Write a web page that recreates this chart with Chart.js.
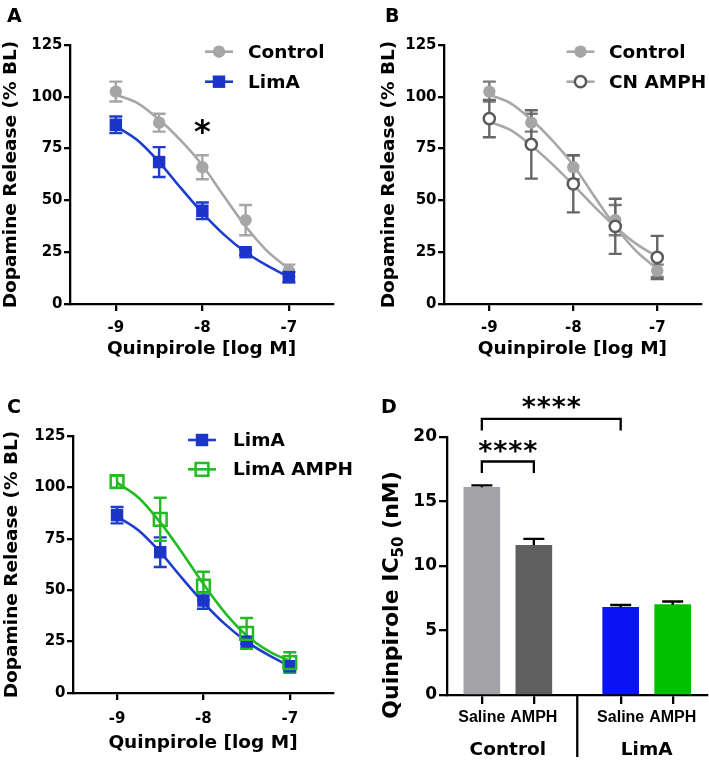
<!DOCTYPE html>
<html><head><meta charset="utf-8">
<script src="https://cdn.jsdelivr.net/npm/chart.js@4.4.1/dist/chart.umd.min.js"></script>
<style>
html,body{margin:0;padding:0;background:#fff;}
#fig{position:relative;width:709px;height:764px;overflow:hidden;background:#fff;}
#fig canvas{position:absolute;}
</style></head><body>
<div id="fig">
<canvas id="cA" width="354" height="380" style="left:0px;top:0px"></canvas>
<canvas id="cB" width="355" height="380" style="left:354px;top:0px"></canvas>
<canvas id="cC" width="354" height="384" style="left:0px;top:380px"></canvas>
<canvas id="cD" width="355" height="384" style="left:354px;top:380px"></canvas>
</div>
<script>
// ---------------- DATA ----------------
const doses = [-9, -8.5, -8, -7.5, -7];
const fitDoses = [-9, -8.75, -8.5, -8.25, -8, -7.75, -7.5, -7.25, -7];
const doseTicks = [-9, -8, -7];
const releaseTicks = [0, 25, 50, 75, 100, 125];

const controlMean = [102.5, 87.5, 66, 40.5, 16];
const controlSem  = [4.8, 4.3, 5.8, 7.3, 3];
const controlFit  = [101, 97, 89, 79, 67, 52, 37.5, 25.5, 17];

const limaMean = [86.5, 68.5, 45, 25, 13];
const limaSem  = [4, 7.2, 4, 1.2, 2.5];
const limaFit  = [85.8, 79, 68.5, 56, 44, 33.5, 25, 18.5, 13];

const cnAmphMean = [89.5, 77, 58, 37.5, 22.5];
const cnAmphSem  = [9, 16.5, 13.8, 13.3, 10.4];
const cnAmphFit  = [88, 84, 76.5, 67.5, 57.5, 47, 37.3, 29, 22.8];

const limaAmphMean = [102.8, 84.5, 52, 29, 14.8];
const limaAmphSem  = [3, 10.5, 7, 7.5, 5];
const limaAmphFit  = [102.3, 95, 83, 68.5, 53, 39, 28, 20.5, 15.5];

const treatments = ['Saline', 'AMPH', 'Saline', 'AMPH'];
const groupNames = ['Control', 'LimA'];
const ic50Mean = [16.1, 11.6, 6.8, 7.0];
const ic50Sem  = [0.15, 0.5, 0.18, 0.25];
const ic50Ticks = [0, 5, 10, 15, 20];
const sigPairs = [[0, 1], [0, 2]];
const sigLabels = ['****', '****'];

// ---------------- STYLE ----------------
const FONT = 'DejaVu Sans';
const fontStr = (size, fam) => `bold ${size}px "${fam || FONT}"`;
const STY = {
  control:  {line:'#a6a6a6', shape:'circle', r:6.2, fill:'#a6a6a6', stroke:'#a6a6a6', bw:0, err:'#a6a6a6'},
  controlB: {line:'#a8a8a8', shape:'circle', r:6.2, fill:'#a6a6a6', stroke:'#a6a6a6', bw:0, err:'#7a7a7a'},
  lima:     {line:'#1d3dcc', shape:'rect', r:8.8, fill:'#1a35c8', stroke:'#1a35c8', bw:0, err:'#1d3dcc'},
  cnAmph:   {line:'#a8a8a8', shape:'circle', r:5.6, fill:'#ffffff', stroke:'#5a5a5a', bw:2.5, err:'#666666'},
  limaAmph: {line:'#22bb22', shape:'rect', r:9, fill:'rgba(0,0,0,0)', stroke:'#22bb22', bw:2.5, err:'#22bb22'}
};
const barColors = ['#a3a3a7', '#5f5f5f', '#0a14f2', '#00c000'];

// ---------------- PLUGINS ----------------
function drawErr(chart, after) {
  const ctx = chart.ctx;
  chart.data.datasets.forEach((ds, i) => {
    if (!ds.errors || (!!ds.errorsOnTop) !== after) return;
    const meta = chart.getDatasetMeta(i);
    const ys = chart.scales[meta.yAxisID];
    ctx.save();
    ctx.strokeStyle = ds.errorColor; ctx.lineWidth = ds.errorWidth || 2.4; ctx.lineCap = 'butt';
    meta.data.forEach((el, j) => {
      const v = ds.data[j].y, e = ds.errors[j];
      const x = el.x;
      const yHi = ys.getPixelForValue(v + e);
      const yLo = ds.errorUpOnly ? ys.getPixelForValue(v) : ys.getPixelForValue(v - e);
      const h = ds.capHalf;
      ctx.beginPath();
      ctx.moveTo(x, yLo); ctx.lineTo(x, yHi);
      ctx.moveTo(x - h, yHi); ctx.lineTo(x + h, yHi);
      if (!ds.errorUpOnly) { ctx.moveTo(x - h, yLo); ctx.lineTo(x + h, yLo); }
      ctx.stroke();
    });
    ctx.restore();
  });
}
Chart.register({
  id: 'errorBars',
  beforeDatasetsDraw(chart) { drawErr(chart, false); },
  afterDatasetsDraw(chart) { drawErr(chart, true); }
});

function marker(ctx, sty, x, y) {
  ctx.save();
  ctx.fillStyle = sty.fill; ctx.strokeStyle = sty.stroke; ctx.lineWidth = sty.bw;
  ctx.beginPath();
  if (sty.shape === 'circle') ctx.arc(x, y, sty.r, 0, Math.PI * 2);
  else { const s = sty.r * Math.SQRT1_2; ctx.rect(x - s, y - s, 2 * s, 2 * s); }
  ctx.fill();
  if (sty.bw > 0) ctx.stroke();
  ctx.restore();
}
function centeredText(ctx, text, cx, cy, size) {
  ctx.save();
  ctx.font = fontStr(size); ctx.fillStyle = '#000';
  const m = ctx.measureText(text);
  ctx.textAlign = 'center'; ctx.textBaseline = 'alphabetic';
  ctx.fillText(text, cx, cy + (m.actualBoundingBoxAscent - m.actualBoundingBoxDescent) / 2);
  ctx.restore();
}
function letter(ctx, t, x, base) {
  ctx.save(); ctx.font = fontStr(19); ctx.fillStyle = '#000';
  ctx.textAlign = 'left'; ctx.textBaseline = 'alphabetic'; ctx.fillText(t, x, base); ctx.restore();
}
function legend(ctx, lg, items) {
  items.forEach((it, i) => {
    const y = lg.y + i * lg.gap;
    ctx.save();
    ctx.strokeStyle = it.sty.line; ctx.lineWidth = 2.6;
    ctx.beginPath(); ctx.moveTo(lg.x - 14, y); ctx.lineTo(lg.x + 14, y); ctx.stroke();
    ctx.restore();
    marker(ctx, it.sty, lg.x, y);
    ctx.save();
    ctx.font = fontStr(18.5); ctx.fillStyle = '#000'; ctx.textAlign = 'left'; ctx.textBaseline = 'middle';
    ctx.fillText(it.name, lg.tx, y + 1);
    ctx.restore();
  });
}

// ---------------- DOSE-RESPONSE PANELS ----------------
function doseChart(id, p) {
  const datasets = [];
  p.series.forEach((s, k) => {
    datasets.push({label: s.name + ' fit', data: fitDoses.map((x, i) => ({x, y: s.fit[i]})),
      showLine: true, pointRadius: 0, borderColor: s.sty.line, borderWidth: 2.6,
      cubicInterpolationMode: 'monotone', order: 20 - k});
    datasets.push({label: s.name, data: doses.map((x, i) => ({x, y: s.mean[i]})),
      showLine: false, pointStyle: s.sty.shape, pointRadius: s.sty.r,
      backgroundColor: s.sty.fill, borderColor: s.sty.stroke, borderWidth: s.sty.bw,
      errors: s.sem, errorColor: s.sty.err, capHalf: 6.5, order: 10 - k});
  });
  const tickFont = {family: FONT, size: 15, weight: 'bold'};
  const titleFont = {family: FONT, size: 18.5, weight: 'bold'};
  return new Chart(document.getElementById(id), {
    type: 'scatter',
    data: {datasets},
    options: {
      responsive: false, animation: false, devicePixelRatio: 1, events: [],
      layout: {padding: {left: 0, top: p.top, right: p.right, bottom: 0}},
      plugins: {legend: {display: false}, tooltip: {enabled: false}},
      scales: {
        x: {type: 'linear', min: p.xMin, max: p.xMax, offset: false,
          afterBuildTicks: s => { s.ticks = doseTicks.map(v => ({value: v})); },
          afterFit: s => { s.height = p.xH; s.paddingLeft = 0; s.paddingRight = 0; },
          ticks: {callback: v => String(v), color: '#000', font: tickFont, padding: p.xTickPad, maxRotation: 0, autoSkip: false},
          grid: {drawOnChartArea: false, drawTicks: true, tickLength: 7, tickWidth: 2.3, tickColor: '#000', color: '#000', lineWidth: 2.3, offset: false},
          border: {display: true, color: '#000', width: 2.3},
          title: {display: true, text: 'Quinpirole [log M]', color: '#000', font: titleFont, padding: {top: 0, bottom: p.xTitlePad}}
        },
        y: {min: 0, max: 125,
          afterBuildTicks: s => { s.ticks = releaseTicks.map(v => ({value: v})); },
          afterFit: s => { s.width = p.yW; s.paddingTop = 0; s.paddingBottom = 0; },
          ticks: {color: '#000', font: tickFont, padding: 1.5, autoSkip: false},
          grid: {drawOnChartArea: false, drawTicks: true, tickLength: 6, tickWidth: 2.3, tickColor: '#000', color: '#000', lineWidth: 2.3},
          border: {display: true, color: '#000', width: 2.3},
          title: {display: true, text: 'Dopamine Release (% BL)', color: '#000', font: titleFont, padding: {top: p.yTitlePad, bottom: 0}}
        }
      }
    },
    plugins: [{
      id: 'decor' + id,
      afterDraw(chart) {
        const ctx = chart.ctx;
        letter(ctx, p.letter.t, p.letter.x, p.letter.base);
        legend(ctx, p.legend, p.series);
        (p.stars || []).forEach(st => {
          centeredText(ctx, st.text, chart.scales.x.getPixelForValue(st.x), chart.scales.y.getPixelForValue(st.y), st.size);
        });
      }
    }]
  });
}

doseChart('cA', {
  top: 45, right: 21, yW: 70, xH: 76, xMin: -9.53, xMax: -6.49,
  xTickPad: 8.4, xTitlePad: 19.6, yTitlePad: 0,
  letter: {t: 'A', x: 7, base: 22},
  legend: {x: 219, tx: 248, y: 51.7, gap: 30},
  series: [
    {name: 'Control', mean: controlMean, sem: controlSem, fit: controlFit, sty: STY.control},
    {name: 'LimA', mean: limaMean, sem: limaSem, fit: limaFit, sty: STY.lima}
  ],
  stars: [{x: -8, y: 85.5, text: '*', size: 32}]
});
doseChart('cB', {
  top: 45, right: 0, yW: 90, xH: 76, xMin: -9.54, xMax: -6.48,
  xTickPad: 8.4, xTitlePad: 19.6, yTitlePad: 23.6,
  letter: {t: 'B', x: 31, base: 22},
  legend: {x: 226.5, tx: 255, y: 51.7, gap: 30},
  series: [
    {name: 'Control', mean: controlMean, sem: controlSem, fit: controlFit, sty: STY.controlB},
    {name: 'CN AMPH', mean: cnAmphMean, sem: cnAmphSem, fit: cnAmphFit, sty: STY.cnAmph}
  ]
});
doseChart('cC', {
  top: 56, right: 21, yW: 73, xH: 71, xMin: -9.51, xMax: -6.5,
  xTickPad: 10.4, xTitlePad: 10.1, yTitlePad: 0.6,
  letter: {t: 'C', x: 7, base: 33},
  legend: {x: 202, tx: 233, y: 60, gap: 29.3},
  series: [
    {name: 'LimA', mean: limaMean, sem: limaSem, fit: limaFit, sty: STY.lima},
    {name: 'LimA AMPH', mean: limaAmphMean, sem: limaAmphSem, fit: limaAmphFit, sty: STY.limaAmph}
  ]
});

// ---------------- IC50 BAR PANEL ----------------
(function () {
  const groupGap = 2.67;
  const barPos = treatments.map((t, i) => Math.floor(i / 2) * groupGap + (i % 2));
  const brackets = [
    {top: 18.1, leg: 17.2, starY: 19.3},
    {top: 21.4, leg: 20.5, starY: 22.7}
  ];
  new Chart(document.getElementById('cD'), {
    type: 'bar',
    data: {datasets: [{
      label: 'Quinpirole IC50',
      data: barPos.map((x, i) => ({x, y: ic50Mean[i]})),
      backgroundColor: barColors, borderWidth: 0, barThickness: 36,
      errors: ic50Sem, errorsOnTop: true, errorUpOnly: true, errorColor: '#000', capHalf: 10.5
    }]},
    options: {
      responsive: false, animation: false, devicePixelRatio: 1, events: [],
      layout: {padding: {left: 0, top: 57, right: 2, bottom: 0}},
      plugins: {legend: {display: false}, tooltip: {enabled: false}},
      scales: {
        x: {type: 'linear', min: -0.67, max: 4.33, offset: false,
          afterBuildTicks: s => { s.ticks = barPos.map(v => ({value: v})); },
          afterFit: s => { s.height = 69; s.paddingLeft = 0; s.paddingRight = 0; },
          ticks: {callback: (v, i) => treatments[i], color: '#000', font: {family: 'Liberation Sans', size: 16, weight: 'bold'}, padding: 3.8, maxRotation: 0, autoSkip: false},
          grid: {drawOnChartArea: false, drawTicks: true, tickLength: 9, tickWidth: 2.3, tickColor: '#000', color: '#000', lineWidth: 2.3, offset: false},
          border: {display: true, color: '#000', width: 2.3}
        },
        y: {min: 0, max: 20,
          afterBuildTicks: s => { s.ticks = ic50Ticks.map(v => ({value: v})); },
          afterFit: s => { s.width = 93; s.paddingTop = 0; s.paddingBottom = 0; },
          ticks: {color: '#000', font: {family: FONT, size: 17, weight: 'bold'}, padding: 2, autoSkip: false},
          grid: {drawOnChartArea: false, drawTicks: true, tickLength: 8, tickWidth: 2.3, tickColor: '#000', color: '#000', lineWidth: 2.3},
          border: {display: true, color: '#000', width: 2.3}
        }
      }
    },
    plugins: [{
      id: 'decorD',
      afterDraw(chart) {
        const ctx = chart.ctx, xs = chart.scales.x, ys = chart.scales.y;
        const area = chart.chartArea;
        letter(ctx, 'D', 27, 33);
        // separator between groups
        const sepX = xs.getPixelForValue((barPos[1] + barPos[2]) / 2);
        ctx.save(); ctx.strokeStyle = '#000'; ctx.lineWidth = 2.3;
        ctx.beginPath(); ctx.moveTo(sepX, area.bottom); ctx.lineTo(sepX, 377); ctx.stroke(); ctx.restore();
        // group labels
        groupNames.forEach((g, k) => {
          const cx = (xs.getPixelForValue(barPos[2 * k]) + xs.getPixelForValue(barPos[2 * k + 1])) / 2;
          centeredText(ctx, g, cx, 368, 18.5);
        });
        // significance brackets
        sigPairs.forEach((pr, k) => {
          const b = brackets[k];
          const x1 = xs.getPixelForValue(barPos[pr[0]]), x2 = xs.getPixelForValue(barPos[pr[1]]);
          const yT = ys.getPixelForValue(b.top), yL = ys.getPixelForValue(b.leg);
          ctx.save(); ctx.strokeStyle = '#000'; ctx.lineWidth = 2.3; ctx.lineJoin = 'miter';
          ctx.beginPath(); ctx.moveTo(x1, yL); ctx.lineTo(x1, yT); ctx.lineTo(x2, yT); ctx.lineTo(x2, yL); ctx.stroke();
          ctx.restore();
          const cx = (x1 + x2) / 2, cy = ys.getPixelForValue(b.starY);
          const n = sigLabels[k].length, pitch = 15;
          for (let j = 0; j < n; j++) centeredText(ctx, sigLabels[k][j], cx + (j - (n - 1) / 2) * pitch, cy, 27);
        });
        // y-axis title with subscript
        const parts = [{t: 'Quinpirole IC', size: 22, dy: 0}, {t: '50', size: 15, dy: 5}, {t: ' (nM)', size: 22, dy: 0}];
        ctx.save();
        ctx.translate(35.5, (area.top + area.bottom) / 2 + 29);
        ctx.rotate(-Math.PI / 2);
        let total = 0;
        parts.forEach(q => { ctx.font = fontStr(q.size); q.w = ctx.measureText(q.t).width; total += q.w; });
        let x = -total / 2;
        const base = 0.729 * 22 / 2;
        ctx.fillStyle = '#000'; ctx.textAlign = 'left'; ctx.textBaseline = 'alphabetic';
        parts.forEach(q => { ctx.font = fontStr(q.size); ctx.fillText(q.t, x, base + q.dy); x += q.w; });
        ctx.restore();
      }
    }]
  });
})();
</script>
</body></html>
